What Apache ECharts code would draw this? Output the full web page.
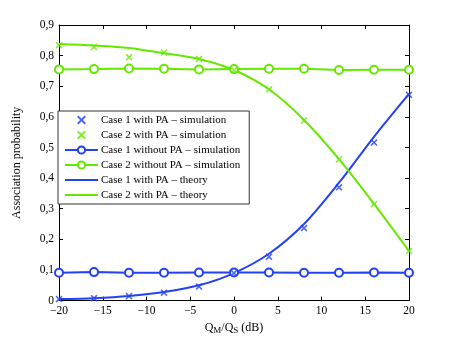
<!DOCTYPE html>
<html>
<head>
<meta charset="utf-8">
<script src="https://cdn.jsdelivr.net/npm/echarts@6/dist/echarts.min.js"></script>
<style>
  html, body { margin: 0; padding: 0; background: #fff; }
  #chart { width: 452px; height: 340px; }
</style>
</head>
<body>
<div id="chart"></div>
<script>
// Q_M/Q_S (dB)
var xs = [-20, -16, -12, -8, -4, 0, 4, 8, 12, 16, 20];
var xTicks = [-20, -15, -10, -5, 0, 5, 10, 15, 20];

var case1SimPA = [0.005, 0.008, 0.015, 0.026, 0.046, 0.090, 0.143, 0.237, 0.370, 0.516, 0.672];
var case2SimPA = [0.834, 0.828, 0.795, 0.810, 0.789, 0.752, 0.690, 0.588, 0.461, 0.315, 0.162];
var case1NoPA = [0.091, 0.093, 0.091, 0.091, 0.092, 0.092, 0.092, 0.091, 0.091, 0.092, 0.091];
var case2NoPA = [0.755, 0.756, 0.758, 0.757, 0.755, 0.756, 0.757, 0.757, 0.753, 0.754, 0.754];
var case1Theory = [0.005, 0.008, 0.015, 0.028, 0.050, 0.090, 0.153, 0.250, 0.385, 0.535, 0.675];
var case2Theory = [0.838, 0.833, 0.825, 0.808, 0.789, 0.753, 0.690, 0.590, 0.462, 0.316, 0.162];

var BLUE = '#2341f5';
var GREEN = '#66e800';
var FONT = 'Liberation Serif';
var XMARK = 'path://M0,1.6L1.6,0L5,3.4L8.4,0L10,1.6L6.6,5L10,8.4L8.4,10L5,6.6L1.6,10L0,8.4L3.4,5Z';
var HIDE = { color: 'rgba(0,0,0,0)', borderWidth: 0 };

function pairs(ys) {
  var out = [];
  for (var i = 0; i < xs.length; i++) out.push([xs[i], ys[i]]);
  return out;
}

var chart = echarts.init(document.getElementById('chart'), null, { renderer: 'canvas' });

var axisCommon = {
  axisLine: { onZero: false, lineStyle: { color: '#000', width: 1 } },
  axisTick: { inside: true, length: 4, lineStyle: { color: '#000' } },
  splitLine: { show: false }
};

chart.setOption({
  animation: false,
  backgroundColor: '#fff',
  grid: { left: 59, right: 43, top: 25, bottom: 38 },
  legend: {
    orient: 'vertical',
    left: 58, top: 111,
    backgroundColor: '#fff',
    borderColor: '#333', borderWidth: 1,
    padding: [3, 9, 3, 6],
    itemWidth: 33, itemHeight: 9, itemGap: 3,
    textStyle: { fontFamily: FONT, fontSize: 11, color: '#000', lineHeight: 12, padding: [0, 0, 0, -2] },
    data: [
      { name: 'Case 1 with PA \u2013 simulation', icon: XMARK, itemStyle: { color: BLUE } },
      { name: 'Case 2 with PA \u2013 simulation', icon: XMARK, itemStyle: { color: GREEN } },
      'Case 1 without PA \u2013 simulation',
      'Case 2 without PA \u2013 simulation',
      { name: 'Case 1 with PA \u2013 theory', itemStyle: HIDE },
      { name: 'Case 2 with PA \u2013 theory', itemStyle: HIDE }
    ]
  },
  xAxis: [
    Object.assign({
      type: 'value', min: -20, max: 20, interval: 5,
      name: '{a|Q}{s|M}{a|/Q}{s|S}{a| (dB)}',
      nameLocation: 'middle', nameGap: 18,
      nameTextStyle: {
        rich: {
          a: { fontFamily: FONT, fontSize: 12, color: '#000' },
          s: { fontFamily: FONT, fontSize: 9, color: '#000', verticalAlign: 'bottom', padding: [6, 0, 0, 0] }
        }
      },
      axisLabel: {
        fontFamily: FONT, fontSize: 11.5, color: '#000', margin: 4,
        formatter: function (v) { return String(v).replace('-', '\u2212'); }
      }
    }, axisCommon),
    Object.assign({
      type: 'value', min: -20, max: 20, interval: 5, position: 'top',
      axisLabel: { show: false }
    }, axisCommon)
  ],
  yAxis: [
    Object.assign({
      type: 'value', min: 0, max: 0.9, interval: 0.1,
      name: 'Association probability', nameLocation: 'middle', nameGap: 36,
      nameTextStyle: { fontFamily: FONT, fontSize: 12, color: '#000' },
      axisLabel: {
        fontFamily: FONT, fontSize: 11.5, color: '#000', margin: 5,
        formatter: function (v) { return v === 0 ? '0' : v.toFixed(1).replace('.', ','); }
      }
    }, axisCommon),
    Object.assign({
      type: 'value', min: 0, max: 0.9, interval: 0.1, position: 'right',
      axisLabel: { show: false }
    }, axisCommon)
  ],
  series: [
    {
      name: 'Case 1 with PA \u2013 simulation', type: 'scatter',
      data: pairs(case1SimPA), symbol: XMARK, symbolSize: 7,
      itemStyle: { color: BLUE }, z: 5
    },
    {
      name: 'Case 2 with PA \u2013 simulation', type: 'scatter',
      data: pairs(case2SimPA), symbol: XMARK, symbolSize: 7,
      itemStyle: { color: GREEN }, z: 5
    },
    {
      name: 'Case 1 without PA \u2013 simulation', type: 'line',
      data: pairs(case1NoPA), symbol: 'emptyCircle', symbolSize: 8, showAllSymbol: true,
      lineStyle: { color: BLUE, width: 2 },
      itemStyle: { color: BLUE, borderColor: BLUE, borderWidth: 2 }
    },
    {
      name: 'Case 2 without PA \u2013 simulation', type: 'line',
      data: pairs(case2NoPA), symbol: 'emptyCircle', symbolSize: 8, showAllSymbol: true,
      lineStyle: { color: GREEN, width: 2 },
      itemStyle: { color: GREEN, borderColor: GREEN, borderWidth: 2 }
    },
    {
      name: 'Case 1 with PA \u2013 theory', type: 'line',
      data: pairs(case1Theory), symbol: 'none', smooth: 0.3,
      lineStyle: { color: BLUE, width: 2 }, itemStyle: { color: BLUE }
    },
    {
      name: 'Case 2 with PA \u2013 theory', type: 'line',
      data: pairs(case2Theory), symbol: 'none', smooth: 0.3,
      lineStyle: { color: GREEN, width: 2 }, itemStyle: { color: GREEN }
    }
  ]
});
</script>
</body>
</html>
